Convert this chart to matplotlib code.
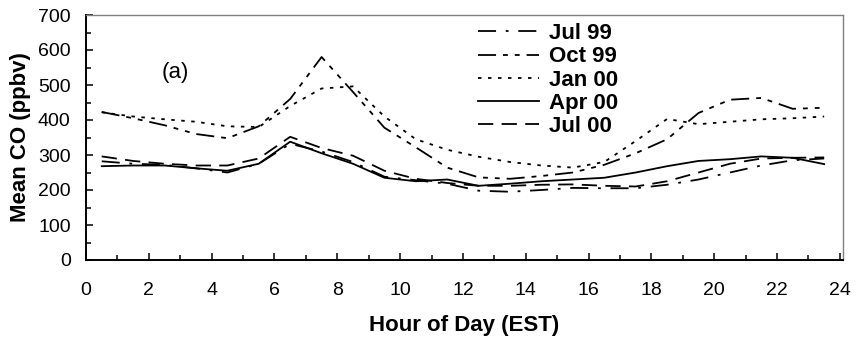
import matplotlib
matplotlib.use("Agg")
import matplotlib.pyplot as plt
from matplotlib.ticker import MultipleLocator

plt.rcParams['font.family'] = ['Liberation Sans', 'DejaVu Sans']
plt.rcParams['lines.scale_dashes'] = False

# hour of day (centre of each hourly bin)
hours = [h + 0.5 for h in range(24)]

jul99 = [282, 275, 272, 262, 250, 275, 332, 310, 280, 238, 228, 218,
         198, 195, 200, 206, 205, 205, 215, 230, 250, 270, 285, 290]
oct99 = [423, 405, 385, 360, 348, 382, 460, 580, 480, 378, 322, 264,
         236, 232, 240, 250, 272, 305, 345, 420, 458, 463, 432, 435]
jan00 = [422, 410, 402, 395, 382, 380, 440, 490, 496, 410, 345, 315,
         295, 280, 270, 264, 280, 340, 403, 388, 395, 402, 405, 410]
apr00 = [268, 270, 270, 262, 255, 275, 338, 305, 275, 235, 225, 230,
         212, 218, 225, 230, 235, 250, 268, 283, 288, 296, 292, 274]
jul00 = [296, 283, 275, 270, 270, 290, 352, 320, 298, 255, 232, 220,
         212, 212, 215, 216, 212, 210, 225, 250, 275, 290, 292, 293]

series = [
    ("Jul 99", jul99, (0, (13, 7, 2, 7))),
    ("Oct 99", oct99, (0, (13, 5, 3.5, 5, 3.5, 5))),
    ("Jan 00", jan00, (0, (2.5, 4.7))),
    ("Apr 00", apr00, "-"),
    ("Jul 00", jul00, (0, (11, 6))),
]

fig = plt.figure(figsize=(8.58, 3.43), dpi=100)
ax = fig.add_axes([86 / 858, 83 / 343, 757 / 858, 245 / 343])

for name, vals, ls in series:
    ax.plot(hours, vals, color="black", linestyle=ls, linewidth=1.3, label=name)

ax.set_xlim(0, 24.1)
ax.set_ylim(0, 700)
ax.xaxis.set_major_locator(MultipleLocator(2))
ax.xaxis.set_minor_locator(MultipleLocator(1))
ax.yaxis.set_major_locator(MultipleLocator(100))
ax.yaxis.set_minor_locator(MultipleLocator(50))
ax.set_xticks(range(0, 25, 2))

ax.tick_params(which="both", direction="in", top=False, right=False, width=1.1)
ax.tick_params(which="major", length=4.8, labelsize=14)
ax.tick_params(which="minor", length=3.6)
ax.tick_params(axis="y", which="major", pad=11)
ax.tick_params(axis="x", which="major", pad=16)

for side in ["left", "bottom"]:
    ax.spines[side].set_color("black")
    ax.spines[side].set_linewidth(1.4)
for side in ["top", "right"]:
    ax.spines[side].set_color("#808080")
    ax.spines[side].set_linewidth(1.0)

ax.set_xlabel("Hour of Day (EST)", fontsize=16, fontweight="bold")
ax.set_ylabel("Mean CO (ppbv)", fontsize=16, fontweight="bold")
ax.xaxis.set_label_coords(0.5, -0.225)
ax.yaxis.set_label_coords(-0.072, 0.5)

ax.text(2.4, 537, "(a)", fontsize=16, ha="left", va="center")

leg = ax.legend(loc="upper left", bbox_to_anchor=(0.518, 0.967), frameon=False,
                prop={"size": 16, "weight": "bold"}, handlelength=2.75,
                handletextpad=0.45, labelspacing=0.1, borderpad=0, borderaxespad=0)

plt.savefig("out.png", dpi=100)
